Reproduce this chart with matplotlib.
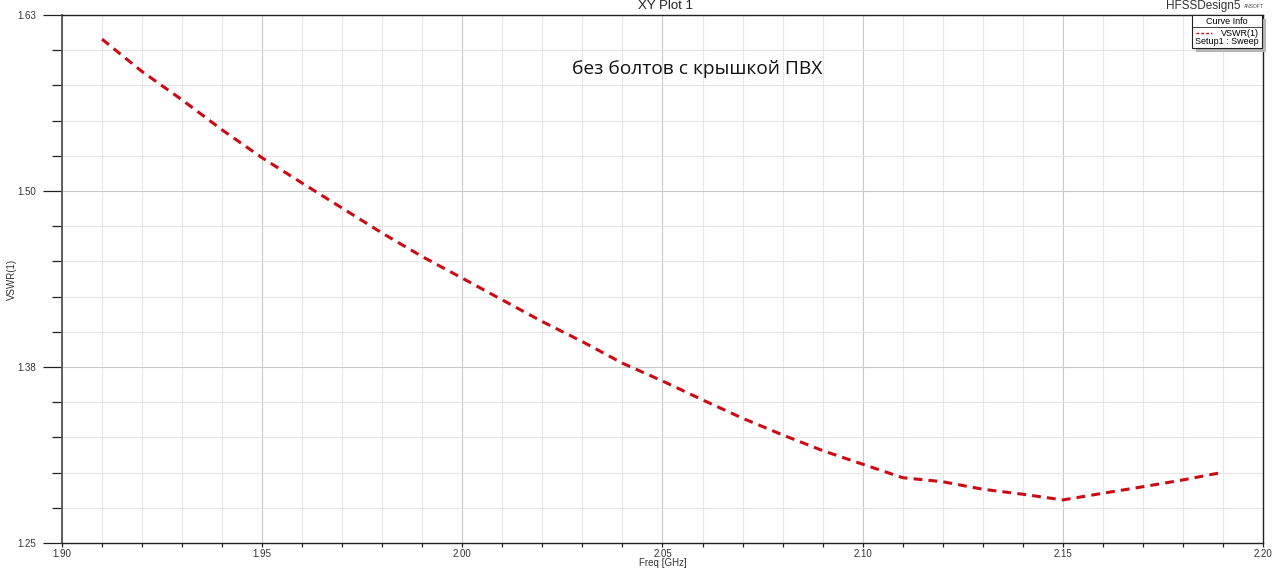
import matplotlib.pyplot as plt
import numpy as np
from matplotlib.ticker import MultipleLocator, FormatStrFormatter

# values
freq = [1.91, 1.92, 1.93, 1.94, 1.95, 1.96, 1.97, 1.98, 1.99, 2.00,
        2.01, 2.02, 2.03, 2.04, 2.05, 2.06, 2.07, 2.08, 2.09, 2.10,
        2.11, 2.12, 2.13, 2.14, 2.15, 2.16, 2.17, 2.18, 2.19]
vswr = [1.6126, 1.5893, 1.5689, 1.5473, 1.5272, 1.5090, 1.4910, 1.4730, 1.4561, 1.4406,
        1.4249, 1.4093, 1.3949, 1.3794, 1.3666, 1.3530, 1.3398, 1.3278, 1.3165, 1.3067,
        1.2970, 1.2941, 1.2887, 1.2851, 1.2810, 1.2858, 1.2905, 1.2954, 1.3009]
x_labels = ["1.90", "1.95", "2.00", "2.05", "2.10", "2.15", "2.20"]
y_min, y_max = 1.25, 1.63
annotation = "без болтов с крышкой ПВХ"

plt.rcParams['font.family'] = ['Liberation Sans', 'DejaVu Sans']

fig = plt.figure(figsize=(12.8, 5.7), dpi=100)
ax = fig.add_axes([62/1280, 1 - 543/570, (1263-62)/1280, (543-15)/570])

ax.plot(freq, vswr, color='#cc0a14', lw=2.2, ls=(0, (2.9, 2.0)), solid_capstyle='butt')

ax.set_xlim(1.90, 2.20)
ax.set_ylim(y_min, y_max)

# x axis: major every 0.05, minor every 0.01
ax.xaxis.set_minor_locator(MultipleLocator(0.01))
ax.set_xticks([float(s) for s in x_labels])
ax.set_xticklabels(x_labels)

# y axis: 3 major divisions, 5 minor per division
y_major = np.linspace(y_min, y_max, 4)
y_minor = np.linspace(y_min, y_max, 16)
ax.set_yticks(y_major)
ax.set_yticks(y_minor, minor=True)
ax.yaxis.set_major_formatter(FormatStrFormatter('%.2f'))

ax.grid(which='major', color='#c9c9c9', lw=0.8)
ax.grid(which='minor', color='#e6e6e6', lw=0.8)
ax.set_axisbelow(True)

ax.tick_params(axis='y', which='major', length=13.5, width=0.9, color='#222222',
               labelsize=7, pad=5, labelcolor='#333333')
ax.tick_params(axis='y', which='minor', length=7, width=0.9, color='#222222')
ax.tick_params(axis='x', which='major', length=3, width=0.9, color='#222222',
               labelsize=7, pad=1.5, labelcolor='#333333')
ax.tick_params(axis='x', which='minor', length=3, width=0.9, color='#222222')

for side in ['left', 'bottom', 'top', 'right']:
    ax.spines[side].set_color('#222222')
    ax.spines[side].set_linewidth(1.0)
ax.spines['left'].set_color('#555555')
ax.spines['left'].set_linewidth(1.3)

ax.set_xlabel("Freq [GHz]", fontsize=7, labelpad=-1, color='#333333')
ax.set_ylabel("VSWR(1)", fontsize=7, color='#333333')
ax.yaxis.set_label_coords(-(62 - 17) / 1201, 0.5)

ax.text(0.5287, 0.898, annotation, transform=ax.transAxes, ha='center', va='center',
        fontsize=13.8, family=['Open Sans', 'DejaVu Sans'], color='#111111')

fig.text(665/1280, 1 - 6/570, "XY Plot 1", ha='center', va='center', fontsize=9.5, color='#222222')
fig.text(1203/1280, 1 - 6/570, "HFSSDesign5", ha='center', va='center', fontsize=8.5, color='#333333')
fig.text(1254/1280, 1 - 7/570, "ANSOFT", ha='center', va='center', fontsize=3.5, color='#444444')

# Curve Info box
bx0, bx1, by0, by1 = 1192/1280, 1262/1280, 1 - 48/570, 1 - 15/570
shadow = plt.Rectangle((bx0 + 4/1280, by0 - 4/570), bx1 - bx0, by1 - by0,
                       transform=fig.transFigure, facecolor='#b5b5b5', edgecolor='none', zorder=5)
box = plt.Rectangle((bx0, by0), bx1 - bx0, by1 - by0, transform=fig.transFigure,
                    facecolor='white', edgecolor='#222222', lw=0.8, zorder=6)
fig.add_artist(shadow)
fig.add_artist(box)
fig.add_artist(plt.Line2D([bx0, bx1], [1 - 27/570, 1 - 27/570], transform=fig.transFigure,
                          color='#222222', lw=0.6, zorder=7))
fig.text((bx0 + bx1) / 2, 1 - 21/570, "Curve Info", ha='center', va='center', fontsize=6.5, zorder=8)
fig.add_artist(plt.Line2D([1196/1280, 1212/1280], [1 - 33/570, 1 - 33/570], transform=fig.transFigure,
                          color='#cc0a14', lw=1.0, ls=(0, (2, 1.5)), zorder=8))
fig.text(1259/1280, 1 - 33/570, "VSWR(1)", ha='right', va='center', fontsize=6.5, zorder=8)
fig.text(1259/1280, 1 - 41/570, "Setup1 : Sweep", ha='right', va='center', fontsize=6.5, zorder=8)

fig.savefig("out.png", dpi=100)
